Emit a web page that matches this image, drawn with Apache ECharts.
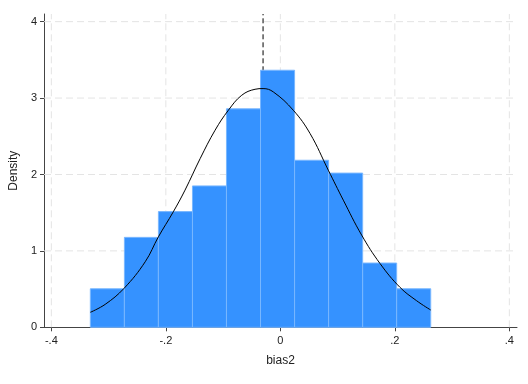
<!DOCTYPE html>
<html><head><meta charset="utf-8">
<script src="https://cdn.jsdelivr.net/npm/echarts@6/dist/echarts.min.js"></script>
<style>html,body{margin:0;padding:0;background:#fff}#c{width:528px;height:384px}</style>
</head><body><div id="c"></div>
<script>
const binEdges = [-0.3319,-0.2724,-0.2130,-0.1535,-0.0941,-0.0346,0.0249,0.0843,0.1438,0.2032,0.2627];
const densities = [0.504,1.177,1.514,1.850,2.859,3.364,2.186,2.018,0.841,0.504];
const curveX = [-0.332,-0.306,-0.273,-0.236,-0.213,-0.187,-0.1665,-0.140,-0.114,-0.0908,-0.0674,-0.0442,-0.0302,-0.0122,0.0227,0.0519,0.0838,0.110,0.142,0.174,0.209,0.238,0.2627];
const curveY = [0.196,0.30,0.51,0.858,1.184,1.511,1.795,2.209,2.579,2.84,3.037,3.115,3.124,3.08,2.84,2.536,2.056,1.664,1.207,0.836,0.523,0.348,0.226];
const meanLine = -0.0302;
const xTicks = [-0.4,-0.2,0,0.2,0.4];
const xTickLabels = ['-.4','-.2','0','.2','.4'];
const yTicks = [0,1,2,3,4];
const yGrid = [1,2,3,4];
const xMin = -0.4128, xMax = 0.4134, yMin = 0, yMax = 4.1;

const FONT = '"Liberation Sans", Arial, sans-serif';
const barData = densities.map((d,i)=>[binEdges[i], binEdges[i+1], d]);
const curveData = curveX.map((x,i)=>[x, curveY[i]]);
const gridColor = '#e4e4e4';

function refLine(points, color, dash, z){
  return {type:'line', data:points, z:z, silent:true, showSymbol:false, symbol:'none',
    lineStyle:{color:color, type:dash, width:1}, emphasis:{disabled:true}, animation:false};
}
const gridSeries = xTicks.map(v=>refLine([[v,yMin],[v,yMax]], gridColor, [7,4], 1))
  .concat(yGrid.map(v=>refLine([[xMin,v],[xMax,v]], gridColor, [7,4], 1)));
const meanSeries = refLine([[meanLine,yMin],[meanLine,yMax]], '#000000', [5,3], 2);

const chart = echarts.init(document.getElementById('c'), null, {renderer:'canvas'});
chart.setOption({
  animation:false,
  backgroundColor:'#ffffff',
  tooltip:{show:false},
  grid:{left:44, right:11, top:14, bottom:56.7, containLabel:false},
  xAxis:{
    type:'value', min:xMin, max:xMax,
    name:'bias2', nameLocation:'middle', nameGap:27,
    nameTextStyle:{fontSize:12, color:'#222', fontFamily:FONT},
    axisLine:{show:true, onZero:false, lineStyle:{color:'#444', width:1}},
    axisTick:{show:true, length:4, customValues:xTicks, lineStyle:{color:'#444'}},
    axisLabel:{show:true, customValues:xTicks, margin:8, fontSize:11, color:'#222', fontFamily:FONT,
      formatter:(v)=>{const i=xTicks.findIndex(t=>Math.abs(t-v)<1e-9); return i>=0?xTickLabels[i]:'';}},
    splitLine:{show:false}
  },
  yAxis:{
    type:'value', min:yMin, max:yMax,
    name:'Density', nameLocation:'middle', nameGap:24, nameRotate:90,
    nameTextStyle:{fontSize:12, color:'#222', fontFamily:FONT},
    axisLine:{show:true, onZero:false, lineStyle:{color:'#444', width:1}},
    axisTick:{show:true, length:4, customValues:yTicks, lineStyle:{color:'#444'}},
    axisLabel:{show:true, customValues:yTicks, margin:7, fontSize:11, color:'#222', fontFamily:FONT,
      formatter:(v)=>String(Math.round(v))},
    splitLine:{show:false}
  },
  series: gridSeries.concat([meanSeries,
    {
      type:'custom', z:3, data:barData, silent:true,
      encode:{x:[0,1], y:2},
      renderItem:function(params, api){
        const x0=api.value(0), x1=api.value(1), h=api.value(2);
        const p0=api.coord([x0,0]), p1=api.coord([x1,h]);
        return {type:'rect', shape:{x:p0[0], y:p1[1], width:p1[0]-p0[0], height:p0[1]-p1[1]},
          style:{fill:'#3592ff', stroke:'#79b7ff', lineWidth:1}};
      }
    },
    {
      type:'line', z:4, data:curveData, smooth:0.4, showSymbol:false, symbol:'none', silent:true,
      lineStyle:{color:'#000', width:1}
    }
  ])
});
</script></body></html>
